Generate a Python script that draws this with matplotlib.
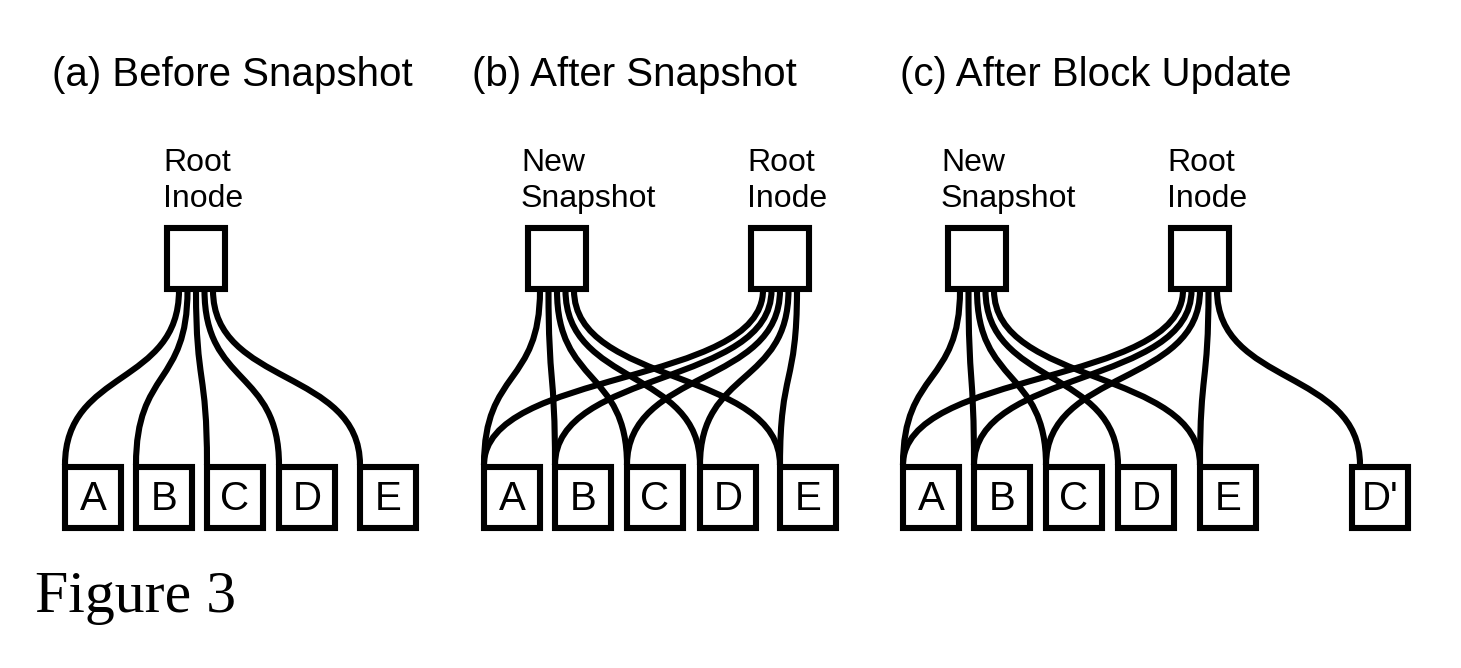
import matplotlib
matplotlib.use("Agg")
import matplotlib.pyplot as plt
from matplotlib.path import Path
from matplotlib.patches import PathPatch, Rectangle

plt.rcParams["font.family"] = ["Liberation Sans", "DejaVu Sans"]

titles = ["(a) Before Snapshot", "(b) After Snapshot", "(c) After Block Update"]
leaves = ["A", "B", "C", "D", "E"]
# panel c: root inode points to the new D' instead of D
edges_a = {"Root\nInode": ["A", "B", "C", "D", "E"]}
edges_b = {"New\nSnapshot": ["A", "B", "C", "D", "E"], "Root\nInode": ["A", "B", "C", "D", "E"]}
edges_c = {"New\nSnapshot": ["A", "B", "C", "D", "E"], "Root\nInode": ["A", "B", "C", "E", "D'"]}

W, H = 1461, 668
fig = plt.figure(figsize=(W / 100, H / 100), dpi=100)
ax = fig.add_axes([0, 0, 1, 1])
ax.set_xlim(0, W)
ax.set_ylim(H, 0)
ax.axis("off")

LW = 4.4


def box(x0, y0, w, h, label=None, fs=29):
    ax.add_patch(Rectangle((x0, y0), w, h, fill=False, lw=LW, ec="black"))
    if label:
        ax.text(x0 + w / 2, y0 + h / 2 + 2, label, ha="center", va="center", fontsize=fs)


def curve(sx, ex, y0=290, y1=465):
    h = (y1 - y0) * 0.55
    verts = [(sx, y0), (sx, y0 + h), (ex, y1 - h), (ex, y1)]
    codes = [Path.MOVETO, Path.CURVE4, Path.CURVE4, Path.CURVE4]
    ax.add_patch(PathPatch(Path(verts, codes), fill=False, lw=LW, ec="black", capstyle="butt"))


def panel(title, tx, parents, edges, leaf_x, extra=None):
    ax.text(tx, 86, title, fontsize=29, ha="left", va="baseline")
    lx = dict(zip(leaves, leaf_x))
    if extra:
        lx.update(extra)
    for name, x in lx.items():
        box(x, 467, 56, 61, name)
    for name, px in parents.items():
        box(px, 228, 58, 61)
        off = 4 if "Root" in name else 7
        ax.text(px - off, 181, name, ha="left", va="center", multialignment="left",
                fontsize=23, linespacing=1.25)
        targets = edges[name]
        n = len(targets)
        for i, t in enumerate(targets):
            sx = px + 12 + i * (34 / max(n - 1, 1))
            ex = lx[t] + (8 if t == "D'" else 0)
            curve(sx, ex)


panel(titles[0], 52, {"Root\nInode": 167}, edges_a, [65, 136, 207, 279, 360])
panel(titles[1], 472, {"New\nSnapshot": 528, "Root\nInode": 751}, edges_b, [484, 555, 627, 700, 780])
panel(titles[2], 900, {"New\nSnapshot": 948, "Root\nInode": 1171}, edges_c,
      [903, 974, 1046, 1118, 1200], extra={"D'": 1352})

ax.text(35, 612, "Figure 3", family=["Liberation Serif", "DejaVu Serif"], fontsize=43, va="baseline")

fig.savefig("out.png", dpi=100)
